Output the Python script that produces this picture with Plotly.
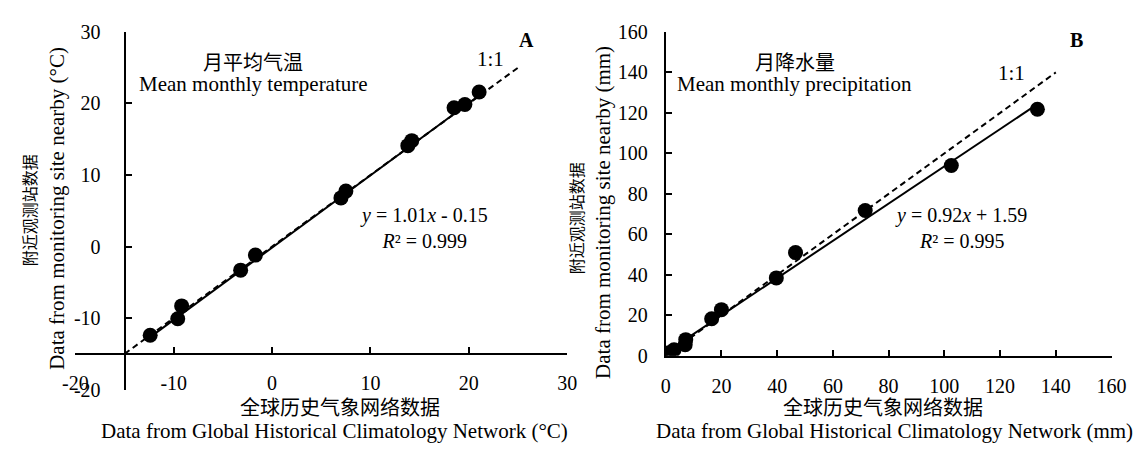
import plotly.graph_objects as go

W, H = 1148, 451

# ---------------- data ----------------
temp_ghcn = [-12.4, -9.6, -9.2, -3.2, -1.7, 7.0, 7.5, 13.8, 14.2, 18.5, 19.6, 21.05]
temp_site = [-12.4, -10.1, -8.3, -3.3, -1.2, 6.8, 7.75, 14.1, 14.8, 19.4, 19.85, 21.6]
temp_fit = (1.01, -0.15)
temp_one = [-15, 25]

prec_ghcn = [1.2, 3.0, 7.0, 7.2, 16.5, 20.0, 39.7, 46.6, 71.6, 102.5, 133.4]
prec_site = [1.5, 3.0, 5.5, 8.0, 18.3, 22.8, 38.5, 51.0, 71.8, 94.0, 121.8]
prec_fit = (0.92, 1.59)
prec_one = [0, 140]

temp_ticks = [-20, -10, 0, 10, 20, 30]
temp_ticklabels = ["-20", "-10", "0", "10", "20", "30"]
prec_ticks = [0, 20, 40, 60, 80, 100, 120, 140, 160]
prec_ticklabels = ["0", "20", "40", "60", "80", "100", "120", "140", "160"]

FONT = "Liberation Serif, Noto Sans CJK SC, serif"


def px(x):
    return x / W


def py(y):
    return 1 - y / H


fig = go.Figure()

# Panel A
fig.add_trace(go.Scatter(x=temp_one, y=temp_one, mode="lines",
                         line=dict(color="black", width=2, dash="6px,4px"),
                         xaxis="x", yaxis="y", showlegend=False))
fa = [min(temp_ghcn), max(temp_ghcn)]
fig.add_trace(go.Scatter(x=fa, y=[temp_fit[0] * v + temp_fit[1] for v in fa], mode="lines",
                         line=dict(color="black", width=2),
                         xaxis="x", yaxis="y", showlegend=False))
fig.add_trace(go.Scatter(x=temp_ghcn, y=temp_site, mode="markers",
                         marker=dict(color="black", size=15),
                         xaxis="x", yaxis="y", showlegend=False))

# Panel B
fig.add_trace(go.Scatter(x=prec_one, y=prec_one, mode="lines",
                         line=dict(color="black", width=2, dash="6px,4px"),
                         xaxis="x2", yaxis="y2", showlegend=False))
fb = [min(prec_ghcn), max(prec_ghcn)]
fig.add_trace(go.Scatter(x=fb, y=[prec_fit[0] * v + prec_fit[1] for v in fb], mode="lines",
                         line=dict(color="black", width=2),
                         xaxis="x2", yaxis="y2", showlegend=False))
fig.add_trace(go.Scatter(x=prec_ghcn, y=prec_site, mode="markers",
                         marker=dict(color="black", size=15),
                         xaxis="x2", yaxis="y2", showlegend=False))

axis_common = dict(showgrid=False, zeroline=False, showline=True, linecolor="black",
                   linewidth=2, ticks="inside", ticklen=6, tickwidth=2, tickcolor="black",
                   tickfont=dict(family=FONT, size=20, color="black"), fixedrange=True)

# panel A geometry (pixels)
A_x0, A_x1 = 64, 568
A_ytop, A_ybot = 22, 398
# axes cross at -15
A_cross_x = A_x0 + (A_x1 - A_x0) * 5 / 50
A_cross_y = A_ybot - (A_ybot - A_ytop) * 5 / 50

B_x0, B_x1 = 669, 1126
B_ytop, B_ybot = 22, 362.5

fig.update_layout(
    width=W, height=H, margin=dict(l=0, r=0, t=0, b=0),
    paper_bgcolor="white", plot_bgcolor="white",
    xaxis=dict(domain=[px(A_x0), px(A_x1)], range=[-20, 30], anchor="free",
               position=py(A_cross_y), tickvals=temp_ticks, ticktext=temp_ticklabels,
               ticklabelstandoff=11, **axis_common),
    yaxis=dict(domain=[py(A_ybot), py(A_ytop)], range=[-20, 30], anchor="free",
               position=px(A_cross_x), tickvals=temp_ticks, ticktext=temp_ticklabels,
               ticklabelstandoff=19, **axis_common),
    xaxis2=dict(domain=[px(B_x0), px(B_x1)], range=[0, 160], anchor="y2",
                tickvals=prec_ticks, ticktext=prec_ticklabels,
                ticklabelstandoff=11, **axis_common),
    yaxis2=dict(domain=[py(B_ybot), py(B_ytop)], range=[0, 160], anchor="x2",
                tickvals=prec_ticks, ticktext=prec_ticklabels,
                ticklabelstandoff=12, **axis_common),
)


def ann(text, x, y, size=21, angle=0, bold=False):
    if bold:
        text = "<b>" + text + "</b>"
    fig.add_annotation(text=text, x=px(x), y=py(y), xref="paper", yref="paper",
                       showarrow=False, xanchor="center", yanchor="middle",
                       textangle=angle, font=dict(family=FONT, size=size, color="black"))


# Panel A texts
ann("月平均气温", 246, 55, 20)
ann("Mean monthly temperature", 246, 77, 21)
ann("1:1", 489, 50, 21)
ann("A", 526, 30, 20, bold=True)
ann("<i>y</i> = 1.01<i>x</i> - 0.15<br><i>R</i>² = 0.999", 421, 228, 20)
ann("附近观测站数据", 18, 210, 16, angle=-90)
ann("Data from monitoring site nearby (°C)", 45, 207, 21, angle=-90)
ann("全球历史气象网络数据", 335, 417, 20)
ann("Data from Global Historical Climatology Network (°C)", 330, 442, 21)

# Panel B texts
ann("月降水量", 802, 55, 20)
ann("Mean monthly precipitation", 801, 77, 21)
ann("1:1", 1023, 65, 21)
ann("B", 1090, 30, 20, bold=True)
ann("<i>y</i> = 0.92<i>x</i> + 1.59<br><i>R</i>² = 0.995", 972, 228, 20)
ann("附近观测站数据", 578, 218, 16, angle=-90)
ann("Data from monitoring site nearby (mm)", 604, 212, 21, angle=-90)
ann("全球历史气象网络数据", 892, 417, 20)
ann("Data from Global Historical Climatology Network (mm)", 904, 442, 21)

fig.write_html("out.html")
